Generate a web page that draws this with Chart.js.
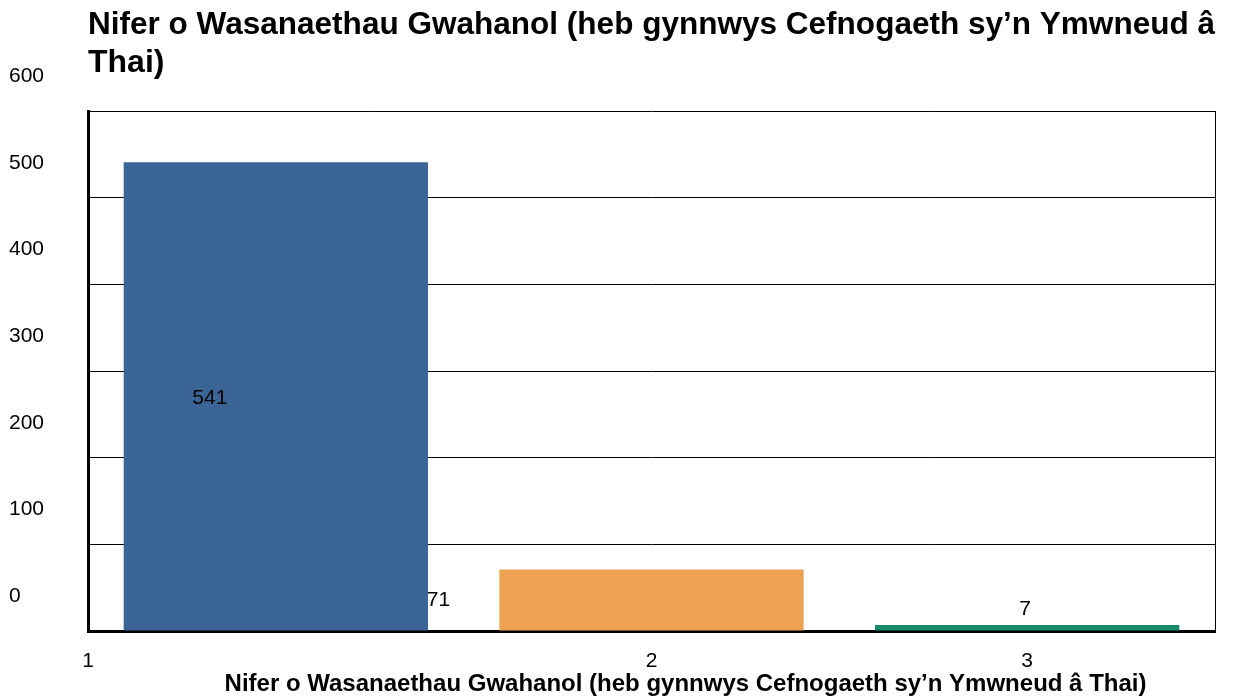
<!DOCTYPE html>
<html>
<head>
<meta charset="utf-8">
<script src="https://cdn.jsdelivr.net/npm/chart.js@4.4.1/dist/chart.umd.min.js"></script>
<style>
    html, body { margin: 0; padding: 0; background: #fff; }
    #contenedor { width: 1239px; height: 698px; }
</style>
</head>
<body>
<div id="contenedor"><canvas id="grafico"></canvas></div>
<script>
// datos del grafico
var categorias = ['1', '2', '3'];
var valores = [541, 71, 7];
var colores = ['#3a6596', '#eda153', '#168c6c'];
var ticksY = [0, 100, 200, 300, 400, 500, 600];
var titulo = ['Nifer o Wasanaethau Gwahanol (heb gynnwys Cefnogaeth sy\u2019n Ymwneud \u00e2', 'Thai)'];
var tituloEjeX = 'Nifer o Wasanaethau Gwahanol (heb gynnwys Cefnogaeth sy\u2019n Ymwneud \u00e2 Thai)';

// desplazamiento de las etiquetas de valor (como en el original)
var desplazaEtiqueta = [[-66, 2], [-213, 0], [-2, -19]];

Chart.defaults.font.family = '"Liberation Sans", Arial, sans-serif';
Chart.defaults.color = '#000';

// plugin que escribe los valores, la primera etiqueta y el titulo del eje x
var etiquetasPlugin = {
    id: 'etiquetas',
    afterDatasetsDraw: function (chart) {
        var ctx = chart.ctx;
        var meta = chart.getDatasetMeta(0);
        ctx.save();
        ctx.font = '21px "Liberation Sans", Arial, sans-serif';
        ctx.fillStyle = '#000';
        ctx.textAlign = 'center';
        ctx.textBaseline = 'middle';
        meta.data.forEach(function (barra, i) {
            var yMedio = (barra.y + barra.base) / 2;
            ctx.fillText(String(valores[i]), barra.x + desplazaEtiqueta[i][0], yMedio + desplazaEtiqueta[i][1]);
        });
        ctx.restore();
    },
    afterDraw: function (chart) {
        var ctx = chart.ctx;
        var ejeX = chart.scales.x;
        var area = chart.chartArea;
        ctx.save();
        ctx.fillStyle = '#000';
        ctx.textAlign = 'center';
        ctx.textBaseline = 'middle';
        ctx.font = '21px "Liberation Sans", Arial, sans-serif';
        ctx.fillText(categorias[0], area.left, ejeX.top + 30);
        // titulo del eje x, algo corrido a la derecha como en el original
        ctx.font = 'bold 24px "Liberation Sans", Arial, sans-serif';
        ctx.fillText(tituloEjeX, (area.left + area.right) / 2 + 34, ejeX.top + 53);
        ctx.restore();
    }
};

var ctx = document.getElementById('grafico').getContext('2d');
new Chart(ctx, {
    type: 'bar',
    data: {
        labels: categorias,
        datasets: [{
            data: valores,
            backgroundColor: colores,
            categoryPercentage: 1,
            barPercentage: 0.81
        }]
    },
    options: {
        responsive: true,
        maintainAspectRatio: false,
        animation: false,
        layout: {
            padding: {left: 9, right: 24, top: 0, bottom: 0}
        },
        plugins: {
            legend: {display: false},
            tooltip: {enabled: false},
            title: {
                display: true,
                text: titulo,
                align: 'start',
                fullSize: false,
                color: '#000',
                font: {size: 32, weight: 'bold', lineHeight: 1.16},
                padding: {top: 7, bottom: 30}
            }
        },
        scales: {
            x: {
                grid: {drawOnChartArea: false, drawTicks: false},
                border: {display: true, color: '#000', width: 3},
                ticks: {
                    color: '#000',
                    font: {size: 21},
                    padding: 18,
                    callback: function (valor, i) {
                        return i === 0 ? '' : categorias[i];
                    }
                },
                afterFit: function (eje) {
                    eje.height = 67;
                }
            },
            y: {
                min: 0,
                max: 600,
                afterBuildTicks: function (eje) {
                    eje.ticks = ticksY.map(function (v) { return {value: v}; });
                },
                grid: {color: '#000', lineWidth: 1, drawTicks: false},
                border: {color: '#000', width: 3},
                ticks: {
                    color: '#000',
                    font: {size: 21},
                    crossAlign: 'far',
                    labelOffset: -35
                },
                afterFit: function (eje) {
                    eje.width = 79;
                }
            },
            yDer: {
                position: 'right',
                min: 0,
                max: 600,
                grid: {drawOnChartArea: false, drawTicks: false},
                border: {display: true, color: '#000', width: 1},
                ticks: {display: false},
                afterFit: function (eje) {
                    eje.width = 0;
                }
            }
        }
    },
    plugins: [etiquetasPlugin]
});
</script>
</body>
</html>
